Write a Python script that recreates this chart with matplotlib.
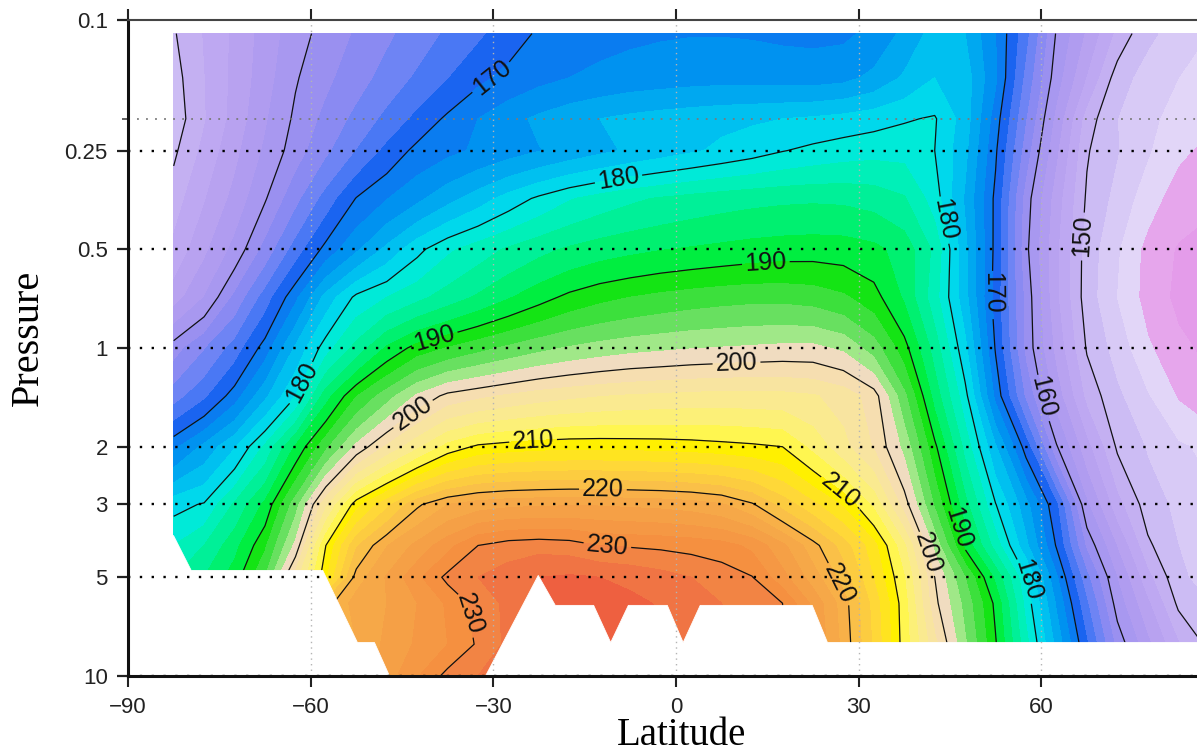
import numpy as np
import matplotlib
matplotlib.use("Agg")
import matplotlib.pyplot as plt
from matplotlib.colors import ListedColormap, BoundaryNorm
from matplotlib.ticker import FixedLocator, FixedFormatter, NullFormatter

# ---- zonal-mean temperature (K) on latitude / pressure grid ----
latitudes = [-82.5, -77.5, -72.5, -67.5, -62.5, -57.5, -52.5, -47.5, -42.5,
             -37.5, -32.5, -27.5, -22.5, -17.5, -12.5, -7.5, -2.5, 2.5, 7.5,
             12.5, 17.5, 22.5, 27.5, 32.5, 37.5, 42.5, 47.5, 52.5, 57.5, 62.5,
             67.5, 72.5, 77.5, 82.5, 87.5]

pressure_levels = [0.11, 0.15, 0.2, 0.25, 0.35, 0.5, 0.7, 1.0, 1.4, 2.0, 3.0,
                   4.0, 5.0, 6.0, 8.0, 10.0]

temp_p011 = [149.8, 152.1, 154.4, 156.8, 159.1, 160.8, 162.2, 163.6, 164.9, 166.3,
             167.6, 169.0, 170.3, 171.0, 171.4, 171.6, 171.8, 171.9, 171.9, 171.8,
             171.6, 171.5, 171.6, 172.5, 174.5, 176.8, 176.0, 172.0, 166.5, 159.8,
             155.6, 151.4, 148.5, 147.0, 146.0]
temp_p015 = [149.2, 151.9, 154.5, 157.1, 159.8, 161.5, 163.1, 164.7, 166.3, 167.9,
             169.5, 170.6, 171.4, 172.0, 172.4, 172.8, 173.0, 173.2, 173.3, 173.3,
             173.2, 173.1, 173.4, 174.5, 176.3, 178.0, 177.0, 172.3, 165.3, 158.9,
             153.8, 149.0, 147.0, 146.0, 145.5]
temp_p020 = [148.8, 151.8, 154.7, 157.7, 160.4, 162.5, 164.5, 166.5, 168.5, 170.4,
             172.0, 173.3, 174.4, 175.3, 176.0, 176.5, 176.9, 177.2, 177.5, 177.7,
             178.0, 178.3, 178.7, 179.2, 179.8, 180.2, 177.0, 171.0, 164.0, 157.3,
             151.0, 148.0, 146.5, 145.2, 144.5]
temp_p025 = [149.6, 152.5, 155.4, 158.3, 161.0, 163.5, 166.0, 168.5, 170.6, 171.5,
             172.3, 173.1, 173.9, 174.7, 175.5, 176.3, 177.0, 177.7, 178.4, 179.1,
             179.9, 180.5, 181.0, 181.3, 181.3, 180.0, 176.5, 170.3, 162.9, 156.3,
             150.2, 148.1, 146.2, 144.4, 143.5]
temp_p035 = [151.0, 153.8, 156.6, 159.8, 163.3, 166.7, 170.1, 171.9, 173.5, 175.3,
             177.0, 178.8, 180.4, 181.8, 182.8, 183.6, 184.2, 184.7, 185.1, 185.4,
             185.6, 185.7, 185.6, 185.2, 184.2, 181.0, 175.7, 169.5, 161.0, 154.9,
             149.7, 147.3, 144.9, 143.0, 142.5]
temp_p050 = [152.5, 155.5, 158.6, 162.6, 166.8, 170.7, 173.6, 176.5, 179.4, 181.6,
             183.0, 184.3, 185.4, 186.3, 187.0, 187.5, 187.9, 188.2, 188.5, 188.8,
             189.0, 189.1, 189.0, 188.5, 187.2, 183.5, 176.5, 169.4, 160.5, 154.3,
             149.1, 146.2, 143.3, 141.8, 141.0]
temp_p070 = [155.0, 158.0, 162.4, 166.8, 171.5, 176.7, 180.5, 182.0, 183.4, 184.9,
             186.3, 187.8, 189.2, 190.5, 191.4, 192.0, 192.5, 192.9, 193.2, 193.4,
             193.4, 193.1, 192.3, 190.8, 187.7, 182.8, 176.7, 169.1, 161.3, 154.3,
             149.0, 145.9, 143.2, 141.5, 140.8]
temp_p100 = [161.0, 163.8, 166.8, 170.9, 176.3, 181.1, 184.7, 188.3, 190.8, 192.1,
             193.3, 194.4, 195.4, 196.2, 196.8, 197.3, 197.6, 197.9, 198.1, 198.3,
             198.5, 198.5, 197.6, 195.0, 190.8, 185.1, 178.5, 169.8, 161.4, 155.3,
             149.8, 147.1, 144.3, 142.5, 141.5]
temp_p140 = [165.0, 167.5, 171.0, 175.5, 180.0, 187.1, 191.9, 195.1, 198.3, 200.6,
             201.5, 202.3, 203.0, 203.5, 203.9, 204.2, 204.4, 204.6, 204.7, 204.7,
             204.6, 204.2, 203.2, 201.0, 194.5, 187.2, 180.7, 171.4, 163.5, 157.0,
             151.4, 148.4, 146.1, 143.8, 142.5]
temp_p200 = [171.5, 174.5, 177.8, 182.4, 188.3, 193.5, 198.5, 202.3, 205.5, 208.7,
             210.4, 210.9, 211.2, 211.4, 211.4, 211.3, 211.2, 211.0, 210.7, 210.4,
             210.0, 207.4, 204.6, 201.8, 197.4, 190.5, 183.3, 176.2, 169.1, 160.2,
             154.6, 149.7, 147.8, 146.3, 145.5]
temp_p300 = [179.3, 180.2, 184.3, 188.5, 195.1, 203.5, 211.2, 215.4, 219.6, 222.0,
             223.0, 223.5, 223.7, 223.8, 223.8, 223.6, 223.4, 223.0, 222.2, 220.3,
             217.2, 214.5, 211.7, 207.5, 201.0, 193.7, 186.7, 180.1, 174.7, 168.3,
             158.3, 152.7, 149.0, 147.5, 146.5]
temp_p400 = [182.0, 184.0, 187.3, 191.6, 198.5, 210.0, 217.7, 221.9, 224.6, 227.3,
             230.0, 231.0, 231.3, 231.0, 230.0, 229.8, 229.6, 229.3, 228.8, 227.5,
             224.5, 220.8, 217.0, 212.7, 206.4, 197.4, 189.5, 183.1, 176.5, 169.8,
             161.5, 155.8, 150.4, 148.0, 147.0]
temp_p500 = [184.0, 186.0, 189.0, 194.0, 203.0, 211.5, 220.9, 224.2, 227.5, 230.6,
             232.0, 233.0, 234.0, 234.3, 234.0, 233.5, 232.8, 232.0, 231.2, 230.1,
             226.7, 223.0, 219.1, 213.9, 208.1, 200.0, 194.0, 187.5, 180.3, 172.3,
             164.5, 157.9, 152.6, 148.5, 147.0]
temp_p600 = [186.0, 188.0, 191.0, 196.0, 205.0, 219.0, 223.0, 224.0, 226.0, 228.3,
             230.8, 232.5, 234.0, 235.0, 235.0, 234.5, 233.8, 233.0, 232.0, 231.0,
             230.0, 225.5, 221.0, 215.2, 208.9, 200.6, 195.3, 189.5, 181.3, 173.7,
             166.2, 159.1, 154.3, 149.6, 148.0]
temp_p800 = [188.0, 190.0, 193.0, 198.0, 207.0, 216.0, 222.0, 224.5, 226.3, 228.0,
             230.3, 232.5, 234.5, 235.5, 235.5, 235.0, 234.5, 233.5, 232.5, 231.5,
             230.5, 226.0, 221.4, 215.6, 209.1, 202.6, 196.3, 190.2, 182.7, 175.4,
             168.2, 161.3, 156.5, 152.2, 149.5]
temp_p1000 = [190.0, 192.0, 195.0, 200.0, 209.0, 217.0, 222.5, 225.0, 227.8, 230.7,
              232.0, 233.0, 234.5, 235.5, 235.5, 235.0, 234.5, 233.5, 232.5, 231.5,
              230.5, 226.0, 221.5, 215.7, 209.1, 202.6, 196.3, 190.2, 182.7, 175.4,
              168.2, 161.3, 156.5, 152.2, 149.5]

# surface outline (latitude, surface pressure) below which there is no data
topo_lat = [-90.0, -82.6, -79.7, -58.1, -52.4, -49.6, -47.1, -31.4, -22.7, -19.9,
            -13.6, -10.8, -7.9, -1.5, 1.1, 3.9, 22.3, 24.8, 90.0]
topo_p = [3.72, 3.72, 4.75, 4.75, 7.88, 7.88, 10.0, 10.0, 4.92, 6.07,
          6.07, 7.88, 6.07, 6.07, 7.88, 6.07, 6.07, 7.88, 7.88]

# shading: one colour per 2 K band from 140 K to 240 K
band_edges = list(range(140, 242, 2))
band_colors = [
    "#e49cea", "#e6a6ec", "#e2d6f8", "#d8caf6", "#ccbcf4", "#c4b0f2", "#bea8f2",
    "#b8a2f0", "#b09cf0", "#a898f0", "#9a90f0", "#8a8af2", "#6e84f4", "#4a78f4",
    "#1a64f0", "#0a7cf0", "#0092f0", "#00a8f0", "#00c0f0", "#00d8ec", "#00ead8",
    "#00f0b8", "#00f098", "#00f070", "#00ee40", "#14e414", "#3ce03c", "#68e060",
    "#a0e888", "#f0dcc0", "#f6deb0", "#f8e4a0", "#faea90", "#fcf078", "#fff650",
    "#fff000", "#ffe420", "#ffd838", "#fccc40", "#fac048", "#f8b048", "#f6a848",
    "#f5a046", "#f59844", "#f59040", "#f28444", "#f07444", "#ee6040", "#e84a30",
    "#e43a28"]
line_levels = [150, 160, 170, 180, 190, 200, 210, 220, 230]

label_spots = [(-30.6, 0.147), (-9.5, 0.30), (14.9, 0.607), (-39.9, 0.90),
               (10.0, 1.18), (-43.7, 1.54), (-62.3, 1.25), (-23.5, 1.87),
               (-12.0, 2.70), (-11.3, 4.07), (-33.3, 6.42), (26.9, 5.21),
               (28.6, 2.48), (41.2, 4.22), (46.6, 3.51), (57.7, 5.10),
               (43.9, 0.407), (51.6, 0.68), (59.8, 1.41), (65.9, 0.452)]

y_ticks = [0.1, 0.25, 0.5, 1, 2, 3, 5, 10]
y_tick_labels = ["0.1", "0.25", "0.5", "1", "2", "3", "5", "10"]
x_ticks = [-90, -60, -30, 0, 30, 60]

temperature = np.array([temp_p011, temp_p015, temp_p020, temp_p025, temp_p035,
                        temp_p050, temp_p070, temp_p100, temp_p140, temp_p200,
                        temp_p300, temp_p400, temp_p500, temp_p600, temp_p800,
                        temp_p1000])

plt.rcParams["font.family"] = ["Liberation Sans", "DejaVu Sans"]

fig = plt.figure(figsize=(11.97, 7.55), dpi=100)
ax = fig.add_axes([0.10693, 0.10464, 0.91555, 0.86887])
ax.set_yscale("log")
ax.set_xlim(-90, 90)
ax.set_ylim(10, 0.1)

cmap = ListedColormap(band_colors)
norm = BoundaryNorm(band_edges, cmap.N)
ax.contourf(latitudes, pressure_levels, temperature, levels=band_edges,
            cmap=cmap, norm=norm, zorder=1)
cs = ax.contour(latitudes, pressure_levels, temperature, levels=line_levels,
                colors="#111111", linewidths=0.9, zorder=2)

# blank out the region below the surface
ax.fill_between(topo_lat, topo_p, 10, facecolor="white", edgecolor="white",
                linewidth=0.6, zorder=2.2)

ax.clabel(cs, manual=label_spots, fmt="%d", fontsize=18, inline=True,
          inline_spacing=3, colors="#111111")

# dotted reference lines
for p in y_ticks[1:]:
    ax.axhline(p, color="black", linestyle=(0, (1, 4)), linewidth=1.7, zorder=2.6)
ax.axhline(0.2, color="#7a7a7a", linestyle=(0, (1, 4)), linewidth=1.3, zorder=2.6)
for x in x_ticks[1:]:
    ax.axvline(x, color="#b4b4b4", linestyle=(0, (1, 3)), linewidth=1.0, zorder=2.6)

ax.yaxis.set_major_locator(FixedLocator(y_ticks))
ax.yaxis.set_major_formatter(FixedFormatter(y_tick_labels))
ax.yaxis.set_minor_locator(FixedLocator([0.2]))
ax.yaxis.set_minor_formatter(NullFormatter())
ax.set_xticks(x_ticks)

ax.tick_params(axis="y", which="major", direction="out", length=8, width=1.6,
               labelsize=16, pad=6.5, colors="#222222")
ax.tick_params(axis="y", which="minor", direction="out", length=4, width=1.2,
               colors="#444444")
ax.tick_params(axis="x", which="major", direction="out", length=8, width=1.5,
               labelsize=16, pad=7, top=True, bottom=True, colors="#222222")

ax.spines["left"].set_linewidth(2.2)
ax.spines["left"].set_color("#111111")
ax.spines["bottom"].set_linewidth(2.2)
ax.spines["bottom"].set_color("#111111")
ax.spines["top"].set_linewidth(1.5)
ax.spines["top"].set_color("#444444")
ax.spines["right"].set_visible(False)
for s in ax.spines.values():
    s.set_zorder(3)

fig.text(682 / 1197, 0.001, "Latitude", ha="center", va="bottom",
         fontsize=28, family=["Liberation Serif", "DejaVu Serif"])
fig.text(28 / 1197, 1 - 338 / 755, "Pressure", ha="center", va="center",
         rotation=90, fontsize=29, family=["Liberation Serif", "DejaVu Serif"])

fig.savefig("out.png", dpi=100)
